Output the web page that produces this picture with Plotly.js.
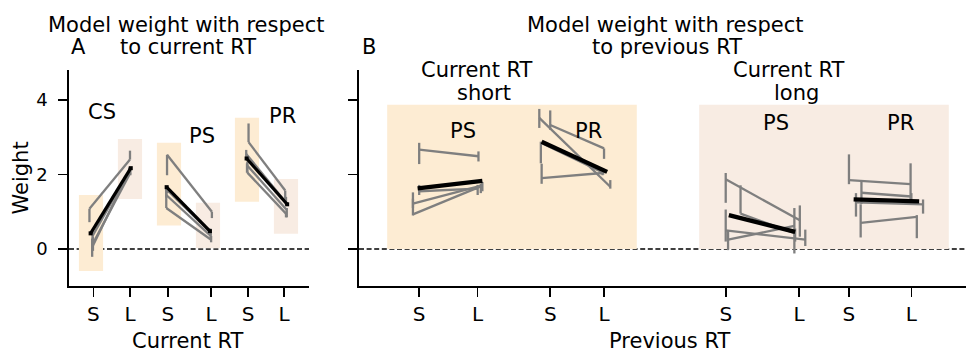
<!DOCTYPE html>
<html>
<head>
<meta charset="utf-8">
<script src="https://cdn.plot.ly/plotly-3.0.1.min.js"></script>
<style>
  html, body { margin: 0; padding: 0; background: #fff; }
  #chart { width: 966px; height: 354px; }
</style>
</head>
<body>
<div id="chart"></div>
<script>
// ---------- Panel A: weight with respect to current RT ----------
const tickPosA = [0.06, 1.0, 1.97, 3.08, 4.03, 4.95];
const tickTextA = ['S', 'L', 'S', 'L', 'S', 'L'];

// per subject: [weight at S, weight at L]
const csWeights = [[1.08, 2.40], [0.35, 2.10], [0.15, 2.05], [0.05, 2.12]];
// per subject: [S low, S high, L low, L high]
const csBars = [[0.72, 1.08, 2.40, 2.64], [0.22, 0.50, 2.02, 2.18], [-0.05, 0.33, 1.98, 2.12], [-0.21, 0.28, 2.06, 2.20]];
const csMean = [0.42, 2.17];

const psWeightsA = [[2.53, 1.00], [1.58, 0.45], [1.45, 0.35], [1.10, 0.25]];
const psBarsA = [[1.98, 2.53, 0.83, 1.00], [1.50, 1.65, 0.38, 0.55], [1.38, 1.63, 0.28, 0.45], [1.10, 1.62, 0.18, 0.35]];
const psMeanA = [1.66, 0.48];

const prWeightsA = [[2.87, 1.57], [2.55, 1.25], [2.25, 1.05], [2.05, 0.95]];
const prBarsA = [[2.87, 3.37, 1.30, 1.57], [2.45, 2.66, 1.18, 1.40], [2.05, 2.30, 0.85, 1.10], [2.05, 2.35, 0.85, 1.00]];
const prMeanA = [2.43, 1.20];

// spread of subject weights at each S / L position
const boxLowA = [-0.59, 1.34, 0.63, 0.02, 1.27, 0.41];
const boxHighA = [1.45, 2.95, 2.85, 1.24, 3.52, 1.88];

// ---------- Panel B: weight with respect to previous RT ----------
const tickPosB = [0.31, 1.06, 1.99, 2.68, 4.24, 5.18, 5.82, 6.62];
const tickTextB = ['S', 'L', 'S', 'L', 'S', 'L', 'S', 'L'];

const shortPsWeights = [[2.67, 2.49], [1.55, 1.62], [1.22, 1.71], [0.93, 1.68]];
const shortPsBars = [[2.28, 2.85, 2.35, 2.62], [1.45, 1.72, 1.45, 1.72], [1.10, 1.52, 1.55, 1.80], [0.90, 1.35, 1.50, 1.75]];
const shortPsMean = [1.63, 1.83];

const shortPrWeights = [[3.52, 1.67], [3.33, 2.70], [2.85, 2.05], [1.90, 2.04]];
const shortPrBars = [[3.25, 3.76, 1.62, 1.85], [3.20, 3.72, 2.42, 2.70], [2.30, 2.88, 2.00, 2.10], [1.75, 2.29, 1.98, 2.08]];
const shortPrMean = [2.88, 2.07];

const longPsWeights = [[1.87, 0.77], [0.95, 0.42], [0.50, 0.25], [0.25, 0.62]];
const longPsBars = [[1.24, 2.04, 0.33, 1.17], [0.95, 1.71, 0.20, 0.55], [0.20, 1.06, 0.08, 0.52], [-0.03, 0.50, -0.12, 1.10]];
const longPsMean = [0.91, 0.46];

const longPrWeights = [[1.85, 1.74], [1.51, 1.41], [1.25, 1.20], [0.70, 0.86]];
const longPrBars = [[1.74, 2.54, 1.31, 2.30], [1.21, 1.81, 1.33, 1.50], [0.87, 1.50, 0.95, 1.33], [0.31, 1.20, 0.29, 0.91]];
const longPrMean = [1.33, 1.28];

const bgTopB = 3.87;

// ---------- styling ----------
const FONT = 'DejaVu Sans, Verdana, sans-serif';
const GRAY = '#7f7f7f';
const SHORT_FILL = '#fdecd3';
const LONG_FILL = '#f8ece3';
const W = 966, H = 354;
const px = v => v / W;
const py = v => 1 - v / H;

// horizontal jitter of each subject's points around its S / L slot
const jitterA = {
  cs: [[-0.04, 0.00], [0.04, -0.02], [0.05, 0.01], [0.03, -0.01]], csMean: [-0.01, 0.02],
  ps: [[-0.05, 0.10], [-0.04, 0.06], [-0.07, 0.07], [-0.07, 0.08]], psMean: [-0.06, 0.05],
  pr: [[0.04, -0.02], [-0.02, 0.00], [0.00, 0.02], [0.01, 0.00]], prMean: [-0.01, 0.03]
};
const jitterB = {
  sps: [[0.01, -0.03], [0.01, -0.04], [-0.07, 0.02], [-0.07, 0.00]], spsMean: [-0.01, 0.02],
  spr: [[-0.05, 0.06], [0.09, -0.02], [-0.03, -0.03], [-0.02, -0.04]], sprMean: [-0.02, 0.02],
  lps: [[-0.06, -0.01], [0.13, -0.07], [-0.06, 0.06], [-0.03, -0.08]], lpsMean: [-0.02, -0.07],
  lpr: [[-0.08, -0.09], [0.08, -0.08], [0.01, 0.07], [0.07, -0.01]], lprMean: [-0.02, 0.02]
};

const groups = [
  { base: [0, 1], w: csWeights, bars: csBars, mean: csMean, jit: jitterA.cs, mj: jitterA.csMean, ax: ['x', 'y'], mw: 3.2, mk: true },
  { base: [2, 3], w: psWeightsA, bars: psBarsA, mean: psMeanA, jit: jitterA.ps, mj: jitterA.psMean, ax: ['x', 'y'], mw: 3.2, mk: true },
  { base: [4, 5], w: prWeightsA, bars: prBarsA, mean: prMeanA, jit: jitterA.pr, mj: jitterA.prMean, ax: ['x', 'y'], mw: 3.2, mk: true },
  { base: [0.3, 1.1], w: shortPsWeights, bars: shortPsBars, mean: shortPsMean, jit: jitterB.sps, mj: jitterB.spsMean, ax: ['x2', 'y2'], mw: 4.3 },
  { base: [1.9, 2.7], w: shortPrWeights, bars: shortPrBars, mean: shortPrMean, jit: jitterB.spr, mj: jitterB.sprMean, ax: ['x2', 'y2'], mw: 4.3 },
  { base: [4.3, 5.2], w: longPsWeights, bars: longPsBars, mean: longPsMean, jit: jitterB.lps, mj: jitterB.lpsMean, ax: ['x2', 'y2'], mw: 4.3 },
  { base: [5.9, 6.7], w: longPrWeights, bars: longPrBars, mean: longPrMean, jit: jitterB.lpr, mj: jitterB.lprMean, ax: ['x2', 'y2'], mw: 4.3 }
];

const traces = [];
const meanTraces = [];
groups.forEach(g => {
  g.w.forEach((pair, i) => {
    const b = g.bars[i];
    traces.push({
      type: 'scatter', mode: 'lines', xaxis: g.ax[0], yaxis: g.ax[1],
      x: [g.base[0] + g.jit[i][0], g.base[1] + g.jit[i][1]],
      y: pair,
      line: { color: GRAY, width: 2.3 },
      error_y: {
        type: 'data', symmetric: false,
        array: [b[1] - pair[0], b[3] - pair[1]],
        arrayminus: [pair[0] - b[0], pair[1] - b[2]],
        color: GRAY, thickness: 2.3, width: 0
      },
      hoverinfo: 'skip'
    });
  });
  meanTraces.push({
    type: 'scatter', mode: g.mk ? 'lines+markers' : 'lines', xaxis: g.ax[0], yaxis: g.ax[1],
    x: [g.base[0] + g.mj[0], g.base[1] + g.mj[1]],
    y: g.mean,
    line: { color: '#000', width: g.mw },
    marker: { color: '#000', size: 4, symbol: 'square' },
    hoverinfo: 'skip'
  });
});

// shaded spans and zero reference lines
const shapes = [];
boxLowA.forEach((lo, i) => {
  shapes.push({
    type: 'rect', xref: 'x', yref: 'y', layer: 'below',
    x0: i - 0.31, x1: i + 0.31, y0: lo, y1: boxHighA[i],
    fillcolor: i % 2 === 0 ? SHORT_FILL : LONG_FILL, line: { width: 0 }
  });
});
shapes.push({ type: 'rect', xref: 'x2', yref: 'y2', layer: 'below', x0: -0.1, x1: 3.1, y0: 0, y1: bgTopB, fillcolor: SHORT_FILL, line: { width: 0 } });
shapes.push({ type: 'rect', xref: 'x2', yref: 'y2', layer: 'below', x0: 3.9, x1: 7.1, y0: 0, y1: bgTopB, fillcolor: LONG_FILL, line: { width: 0 } });
[['x domain', 'y'], ['x2 domain', 'y2']].forEach(r => {
  shapes.push({
    type: 'line', xref: r[0], yref: r[1], layer: 'below',
    x0: 0, x1: 1, y0: 0, y1: 0,
    line: { color: '#000', width: 1.3, dash: '5px,2.6px' }
  });
});

function note(text, x, y, extra) {
  return Object.assign({
    text: text, xref: 'paper', yref: 'paper', x: px(x), y: py(y),
    xanchor: 'center', yanchor: 'middle', showarrow: false,
    font: { family: FONT, size: 21, color: '#000' }
  }, extra || {});
}

const annotations = [
  note('Model weight with respect', 186.5, 24.6),
  note('to current RT', 188, 46.9),
  note('A', 69, 46.9, { xanchor: 'left' }),
  note('Model weight with respect', 665, 24.6),
  note('to previous RT', 667, 46.9),
  note('B', 359.5, 46.9, { xanchor: 'left' }),
  note('Current RT', 477, 69.6),
  note('short', 484, 92.9),
  note('Current RT', 788.7, 69.6),
  note('long', 796, 92.9),
  note('CS', 101.7, 112.2),
  note('PS', 202, 136.2),
  note('PR', 282.7, 116.2),
  note('PS', 463.3, 130.6),
  note('PR', 588.8, 130.6),
  note('PS', 775.7, 122.9),
  note('PR', 900.3, 122.9),
  note('Current RT', 187.5, 354, { yanchor: 'bottom', borderpad: 0 }),
  note('Previous RT', 669, 354, { yanchor: 'bottom', borderpad: 0 }),
  note('Weight', 20, 178.5, { textangle: -90 })
];

const axisBase = {
  showgrid: false, zeroline: false, showline: true,
  linecolor: '#000', linewidth: 1.6,
  ticks: 'outside', ticklen: 9, tickwidth: 1.6, tickcolor: '#000',
  fixedrange: true
};
const yDomain = [68 / H, 284 / H];
const yRange = [-0.993, 4.805];

const layout = {
  width: W, height: H,
  margin: { l: 0, r: 0, t: 0, b: 0 },
  paper_bgcolor: '#fff', plot_bgcolor: 'rgba(0,0,0,0)',
  showlegend: false,
  font: { family: FONT, color: '#000' },
  xaxis: Object.assign({}, axisBase, {
    domain: [px(69), px(309)], range: [-0.564, 5.59], anchor: 'y',
    tickmode: 'array', tickvals: tickPosA, ticktext: tickTextA,
    tickfont: { family: FONT, size: 20, color: '#000' }, ticklabelstandoff: 0
  }),
  yaxis: Object.assign({}, axisBase, {
    domain: yDomain, range: yRange, anchor: 'x',
    tickmode: 'array', tickvals: [0, 2, 4], ticktext: ['0', '2', '4'],
    tickfont: { family: FONT, size: 18, color: '#000' }, ticklabelstandoff: 7
  }),
  xaxis2: Object.assign({}, axisBase, {
    domain: [px(359), 1], range: [-0.4615, 7.3205], anchor: 'y2',
    tickmode: 'array', tickvals: tickPosB, ticktext: tickTextB,
    tickfont: { family: FONT, size: 20, color: '#000' }, ticklabelstandoff: 0
  }),
  yaxis2: Object.assign({}, axisBase, {
    domain: yDomain, range: yRange, anchor: 'x2',
    tickmode: 'array', tickvals: [0, 2, 4], showticklabels: false
  }),
  shapes: shapes,
  annotations: annotations
};

Plotly.newPlot('chart', traces.concat(meanTraces), layout, { displayModeBar: false, staticPlot: true });
</script>
</body>
</html>
